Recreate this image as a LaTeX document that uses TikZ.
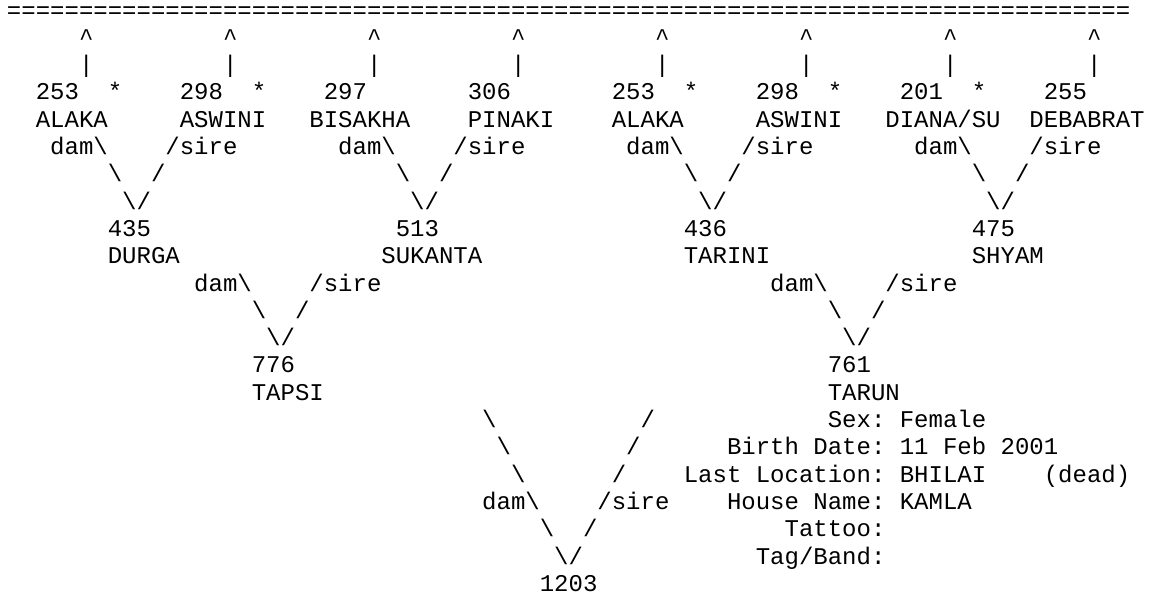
\documentclass[tikz,border=0pt]{standalone}
\usepackage{fontspec}
\setmonofont{Liberation Mono}
\newcommand{\bs}{\textbackslash}

\begin{document}
\begin{tikzpicture}[x=10.8pt, y=-20.475pt,
    asc/.style={anchor=base west, inner sep=0pt, outer sep=0pt,
                font=\ttfamily\fontsize{18pt}{20pt}\selectfont\frenchspacing}]
  \useasboundingbox (0pt,0pt) rectangle (863.25pt,-447.75pt);
  \begin{scope}[shift={(5.25pt,-13.5pt)}]
    % ----- top rule and ancestor links
    \node[asc] (rule) at (0,0) {==============================================================================};
    \foreach \c [count=\i] in {5,15,...,75} {
      \node[asc] (up\i) at (\c,1) {\textasciicircum};
      \node[asc] (bar\i) at (\c,2) {|};
    }
    % ----- great-grandparents
    \node[asc] (n253a) at (2,3) {253};
    \node[asc] (s1) at (7,3) {*};
    \node[asc] (n298a) at (12,3) {298};
    \node[asc] (s2) at (17,3) {*};
    \node[asc] (n297) at (22,3) {297};
    \node[asc] (n306) at (32,3) {306};
    \node[asc] (n253b) at (42,3) {253};
    \node[asc] (s3) at (47,3) {*};
    \node[asc] (n298b) at (52,3) {298};
    \node[asc] (s4) at (57,3) {*};
    \node[asc] (n201) at (62,3) {201};
    \node[asc] (s5) at (67,3) {*};
    \node[asc] (n255) at (72,3) {255};
    \node[asc] (alakaA) at (2,4) {ALAKA};
    \node[asc] (aswiniA) at (12,4) {ASWINI};
    \node[asc] (bisakha) at (21,4) {BISAKHA};
    \node[asc] (pinaki) at (32,4) {PINAKI};
    \node[asc] (alakaB) at (42,4) {ALAKA};
    \node[asc] (aswiniB) at (52,4) {ASWINI};
    \node[asc] (diana) at (61,4) {DIANA/SU};
    \node[asc] (debabrat) at (71,4) {DEBABRAT};
    \foreach \b in {0,20,40,60} {
      \node[asc] (damA\b) at ({\b+3},5) {dam\bs};
      \node[asc] (sireA\b) at ({\b+11},5) {/sire};
      \node[asc] (lA\b) at ({\b+7},6) {\bs};
      \node[asc] (rA\b) at ({\b+10},6) {/};
      \node[asc] (vA\b) at ({\b+8},7) {\bs/};
    }
    % ----- grandparents
    \node[asc] (n435) at (7,8) {435};
    \node[asc] (n513) at (27,8) {513};
    \node[asc] (n436) at (47,8) {436};
    \node[asc] (n475) at (67,8) {475};
    \node[asc] (durga) at (7,9) {DURGA};
    \node[asc] (sukanta) at (26,9) {SUKANTA};
    \node[asc] (tarini) at (47,9) {TARINI};
    \node[asc] (shyam) at (67,9) {SHYAM};
    \foreach \b in {0,40} {
      \node[asc] (damB\b) at ({\b+13},10) {dam\bs};
      \node[asc] (sireB\b) at ({\b+21},10) {/sire};
      \node[asc] (lB\b) at ({\b+17},11) {\bs};
      \node[asc] (rB\b) at ({\b+20},11) {/};
      \node[asc] (vB\b) at ({\b+18},12) {\bs/};
    }
    % ----- parents
    \node[asc] (n776) at (17,13) {776};
    \node[asc] (n761) at (57,13) {761};
    \node[asc] (tapsi) at (17,14) {TAPSI};
    \node[asc] (tarun) at (57,14) {TARUN};
    % ----- links down to the animal
    \foreach \r/\l/\q in {15/33/44, 16/34/43, 17/35/42} {
      \node[asc] (lC\r) at (\l,\r) {\bs};
      \node[asc] (rC\r) at (\q,\r) {/};
    }
    \node[asc] (damC) at (33,18) {dam\bs};
    \node[asc] (sireC) at (41,18) {/sire};
    \node[asc] (lC19) at (37,19) {\bs};
    \node[asc] (rC19) at (40,19) {/};
    \node[asc] (vC) at (38,20) {\bs/};
    \node[asc] (n1203) at (37,21) {1203};
    % ----- details of the animal
    \node[asc] (sexK) at (57,15) {Sex:};
    \node[asc] (sexV) at (62,15) {Female};
    \node[asc] (birthK) at (50,16) {Birth Date:};
    \node[asc] (birthV) at (62,16) {11 Feb 2001};
    \node[asc] (locK) at (47,17) {Last Location:};
    \node[asc] (locV) at (62,17) {BHILAI};
    \node[asc] (dead) at (72,17) {(dead)};
    \node[asc] (houseK) at (50,18) {House Name:};
    \node[asc] (houseV) at (62,18) {KAMLA};
    \node[asc] (tattooK) at (54,19) {Tattoo:};
    \node[asc] (tagK) at (52,20) {Tag/Band:};
  \end{scope}
\end{tikzpicture}
\end{document}
